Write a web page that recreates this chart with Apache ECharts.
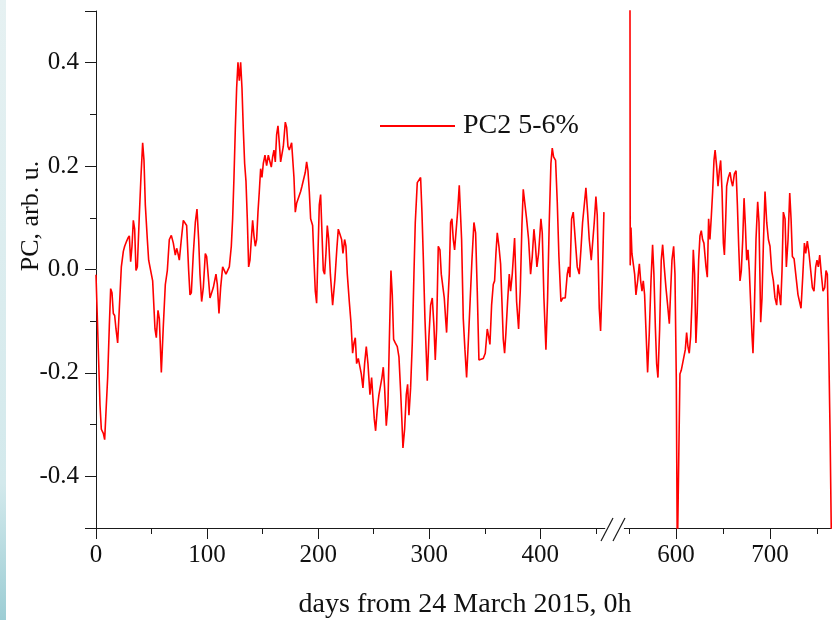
<!DOCTYPE html>
<html><head><meta charset="utf-8">
<script src="https://cdn.jsdelivr.net/npm/echarts@6.0.0/dist/echarts.min.js"></script>
<style>html,body{margin:0;padding:0;background:#fff}#c{width:832px;height:620px}</style>
</head><body><div id="c"></div><script>
// ---- data (days from 24 March 2015, PC2 values) ----
const leftDays = [0,3.6,4.8,6.6,7.8,9,10.5,12,13.2,14.4,15.6,16.8,18,19.5,21,22.8,24.6,25.8,27.6,28.8,30,31.2,32.4,33.6,34.8,36,37.2,39,40.5,42,43.2,44.4,46.2,47.4,49.2,51,53.1,54.3,55.8,57,58.8,60.6,62.4,64.2,66,67.8,69.6,71.4,72.6,73.8,75,76.8,78.6,79.8,81.6,83.4,84.6,85.8,87.6,89.4,90.9,92.4,93.6,95.1,96.6,98.4,99.6,101.4,102.6,105.6,108,109.2,110.7,112.2,114,115.2,117,118.2,120,121.8,123,124.2,125.4,126.6,127.8,129,130.2,131.4,132.6,133.8,135,136.2,137.4,138.6,139.8,141,142.2,143.4,144.6,145.8,147,148.2,149.4,150.6,152.1,153.6,155.1,156.6,157.8,159,160.2,161.4,162.6,163.8,165,166.2,167.4,168.6,170.4,171.6,172.8,174,175.2,176.1,177,178.2,179.4,180.6,182.4,184.2,185.4,186.6,188.4,189.6,190.8,192,193.2,195,196.2,197.4,198.6,199.8,201,202.2,203.4,204.6,205.8,207,208.2,209.4,211,213,215,216.8,218.1,219.6,221.1,222.3,223.8,225,226.2,228,229.5,231,232.2,233.4,234.6,236.1,237.6,238.8,240.3,241.8,243.3,244.8,246.6,248.1,249.3,250.5,251.7,253.2,254.7,256.2,257.4,258.6,259.8,261.3,262.8,264,265.5,266.7,267.9,269.4,271.2,272.7,274.2,275.4,276.3,277.8,279.3,280.5,281.7,283.2,284.7,286.2,287.4,289.2,290.7,292.2,293.4,294.6,296.1,298.2,299.7,301.2,302.7,304.2,305.4,306.6,308.1,309.6,310.8,312,313.5,314.7,315.6,316.8,318,319.2,320.4,321.6,322.8,324,325.5,327,329.1,330.6,332.1,333.6,335.1,336.6,338.4,340.2,341.7,343.2,344.7,346.5,348.6,350.4,352.2,353.4,354.6,356.1,357.6,358.8,360,361.2,362.7,364.2,365.4,366.6,367.8,369,370.5,372,373.2,374.7,376.8,378.6,380.4,381.9,383.4,384.6,387.6,389.4,391.2,392.7,394.2,395.4,396.9,398.4,400.5,401.7,403.2,405,406.5,408,409.5,410.7,411.9,413.7,415.2,416.7,418.5,420.3,422.4,424.2,425.4,426.6,428.1,429.6,431.4,433.2,435,436.5,438,439.8,441,442.5,444,445.8,447,448.5,450,451.2,453,454.2,455.7,457.2];
const leftValues = [-0.01,-0.262,-0.309,-0.317,-0.329,-0.275,-0.209,-0.109,-0.037,-0.045,-0.085,-0.089,-0.115,-0.142,-0.075,0.005,0.035,0.045,0.055,0.061,0.065,0.015,0.045,0.095,0.078,-0.002,0.005,0.105,0.181,0.245,0.211,0.125,0.058,0.018,0.015,-0.022,-0.115,-0.132,-0.079,-0.095,-0.199,-0.109,-0.029,-0.002,0.058,0.066,0.051,0.028,0.041,0.031,0.018,0.058,0.095,0.095,0.085,-0.002,-0.049,-0.045,0.031,0.091,0.117,0.058,-0.009,-0.062,-0.035,0.031,0.025,-0.022,-0.055,-0.035,-0.009,-0.029,-0.085,-0.035,0.005,0.008,-0.009,-0.012,0.005,0.045,0.098,0.178,0.271,0.351,0.401,0.365,0.401,0.351,0.271,0.205,0.171,0.098,0.005,0.018,0.058,0.095,0.065,0.045,0.058,0.111,0.151,0.195,0.178,0.205,0.221,0.201,0.221,0.221,0.198,0.218,0.231,0.208,0.261,0.278,0.245,0.208,0.211,0.238,0.285,0.275,0.238,0.231,0.228,0.245,0.248,0.178,0.111,0.128,0.131,0.151,0.161,0.158,0.188,0.208,0.191,0.151,0.098,0.085,0.018,-0.042,-0.065,0.031,0.125,0.145,0.071,-0.002,-0.009,0.031,0.085,0.06,-0.01,-0.069,-0.02,0.04,0.078,0.068,0.058,0.031,0.058,0.045,-0.009,-0.062,-0.102,-0.162,-0.142,-0.132,-0.182,-0.172,-0.169,-0.202,-0.229,-0.182,-0.149,-0.182,-0.242,-0.209,-0.249,-0.289,-0.312,-0.269,-0.242,-0.241,-0.209,-0.189,-0.229,-0.302,-0.262,-0.142,-0.002,-0.049,-0.135,-0.142,-0.149,-0.169,-0.235,-0.295,-0.345,-0.309,-0.242,-0.222,-0.282,-0.229,-0.142,-0.009,0.091,0.168,0.171,0.178,0.111,0.025,-0.095,-0.215,-0.129,-0.069,-0.055,-0.109,-0.175,-0.115,0.045,0.038,-0.009,-0.009,-0.055,-0.095,-0.122,-0.062,-0.009,0.091,0.098,0.058,0.038,0.071,0.111,0.163,0.058,-0.095,-0.155,-0.209,-0.142,-0.069,0.018,0.091,0.071,-0.042,-0.175,-0.174,-0.172,-0.162,-0.115,-0.129,-0.145,-0.069,-0.029,-0.022,0.031,0.071,0.045,0.011,-0.062,-0.135,-0.162,-0.122,-0.062,-0.009,-0.042,-0.009,0.061,-0.062,-0.115,-0.042,0.085,0.155,0.098,0.058,-0.009,0.025,0.078,0.051,0.005,0.031,0.098,0.071,-0.055,-0.155,-0.055,0.091,0.205,0.235,0.218,0.211,0.131,0.025,-0.062,-0.055,-0.055,-0.009,0.005,-0.015,0.098,0.111,0.108,0.005,-0.009,0.038,0.091,0.131,0.158,0.111,0.058,0.018,0.015,0.091,0.141,0.105,-0.075,-0.119,-0.022,0.111];
const rightDays = [551,551.3,552.1,553.1,554.6,556,557.4,559.2,561,562.4,563.8,565.2,566.6,568,569.8,571.6,573.4,575.1,576.5,578,579.4,580.8,582.6,584.3,585.8,587.5,589.3,591.1,592.9,594.3,595.7,597.5,598.9,600.3,601.4,602.8,604.2,605.6,607,608.5,609.9,611.3,612.7,614.1,615.6,617,618.4,619.8,621.2,622.6,624.1,625.5,626.9,628.3,629.7,631.9,633.3,634.7,636.1,637.5,639,640.4,641.6,643.2,644.7,646.1,647.5,649,650.4,651.5,652.9,653.9,655.7,657.5,658.9,660.3,662.1,663.9,665.3,666.7,668.1,669.5,671,672.4,673.8,675.2,676.6,678,679.5,680.9,681.9,683.4,685.1,686.9,688.3,690.1,691.5,692.9,694.7,696.5,698.3,700,701.8,703.6,705.3,707.1,708.5,710,711.4,712.8,714.2,716,717.4,719.2,721,722.4,723.8,725.6,727.7,729.8,731.2,733,734.8,736.6,738,739.7,741.5,743.3,745.1,746.8,748.6,750,751.4,752.9,754.6,756.4,758.2,759.6,761,762.4,763.9,765.3];
const rightValues = [0.62,0.008,0.081,0.031,0.028,-0.009,-0.049,-0.022,0.011,-0.022,-0.042,-0.022,-0.049,-0.115,-0.199,-0.122,-0.022,0.048,-0.009,-0.109,-0.182,-0.209,-0.115,0.018,0.048,0.005,-0.035,-0.069,-0.105,-0.042,0.018,0.045,-0.009,-0.209,-0.56,-0.56,-0.202,-0.195,-0.182,-0.179,-0.155,-0.122,-0.149,-0.162,-0.129,-0.062,0.038,-0.009,-0.142,-0.082,0.018,0.065,0.075,0.058,0.051,0.005,-0.015,0.098,0.058,0.1,0.151,0.211,0.231,0.2,0.161,0.191,0.211,0.151,0.051,0.028,0.098,0.161,0.178,0.188,0.171,0.161,0.185,0.191,0.125,0.045,-0.022,-0.002,0.058,0.138,0.085,0.018,0.038,-0.002,-0.069,-0.129,-0.162,-0.075,0.058,0.131,0.091,-0.102,-0.055,0.045,0.151,0.091,0.058,0.045,-0.002,-0.022,-0.055,-0.069,-0.029,-0.029,-0.069,-0.002,0.111,0.098,0.005,0.058,0.148,0.098,0.025,0.021,0.018,-0.049,-0.049,-0.075,-0.015,0.051,0.031,0.055,0.031,-0.002,-0.035,-0.042,0.005,0.018,0.005,0.028,-0.009,-0.042,-0.035,-0.002,-0.009,-0.142,-0.315,-0.52];
const yTickLabels = [-0.4, -0.2, 0, 0.2, 0.4];
const yMajorTicks = [-0.5, -0.4, -0.2, 0, 0.2, 0.4, 0.5];
const yMinorTicks = [-0.3, -0.1, 0.1, 0.3];
const xMajorLeft = [0, 100, 200, 300, 400];
const xMinorLeft = [50, 150, 250, 350, 450];
const xMajorRight = [600, 700];
const xMinorRight = [550, 650, 750];
const seriesName = 'PC2 5-6%';
const yTitle = 'PC, arb. u.';
const xTitle = 'days from 24 March 2015, 0h';

// ---- styling ----
const FONT = '"Liberation Serif", "Times New Roman", serif';
const AX = '#1a1a1a';
const RED = '#ff0000';

const chart = echarts.init(document.getElementById('c'), null, {renderer: 'canvas'});

function xAxisDef(grid, min, max, ticks, labels, len, withLine) {
  return {
    type: 'value', gridIndex: grid, min: min, max: max, position: 'bottom',
    axisLine: {show: withLine, onZero: false, lineStyle: {color: AX, width: 1}},
    axisTick: {show: true, inside: false, length: len, customValues: ticks, lineStyle: {color: AX, width: 1}},
    axisLabel: labels ? {show: true, customValues: labels, margin: 15, color: '#111', fontSize: 25, fontFamily: FONT} : {show: false},
    splitLine: {show: false}
  };
}

const option = {
  animation: false,
  backgroundColor: '#ffffff',
  grid: [
    {left: 96, top: 11, width: 508.8, height: 517, outerBoundsMode: 'none'},
    {left: 624.3, top: 11, width: 206.8, height: 517, outerBoundsMode: 'none'}
  ],
  legend: {
    show: true, left: 375, top: 107, itemWidth: 75, itemHeight: 2, icon: 'rect',
    data: [seriesName],
    itemStyle: {color: RED, borderWidth: 0},
    textStyle: {fontSize: 28, fontFamily: FONT, color: '#111', padding: [0, 0, 0, 3]}
  },
  xAxis: [
    xAxisDef(0, 0, 458, xMajorLeft, xMajorLeft, 11, true),
    xAxisDef(0, 0, 458, xMinorLeft, null, 6, false),
    xAxisDef(1, 545, 765, xMajorRight, xMajorRight, 11, true),
    xAxisDef(1, 545, 765, xMinorRight, null, 6, false)
  ],
  yAxis: [
    {type: 'value', gridIndex: 0, min: -0.5, max: 0.5, position: 'left',
     axisLine: {show: true, onZero: false, lineStyle: {color: AX, width: 1}},
     axisTick: {show: true, length: 11, customValues: yMajorTicks, lineStyle: {color: AX, width: 1}},
     axisLabel: {show: true, customValues: yTickLabels, margin: 17, color: '#111', fontSize: 25, fontFamily: FONT,
                 formatter: v => Number(v).toFixed(1)},
     splitLine: {show: false}},
    {type: 'value', gridIndex: 0, min: -0.5, max: 0.5, position: 'left',
     axisLine: {show: false},
     axisTick: {show: true, length: 6, customValues: yMinorTicks, lineStyle: {color: AX, width: 1}},
     axisLabel: {show: false}, splitLine: {show: false}},
    {type: 'value', gridIndex: 1, min: -0.5, max: 0.5, show: false}
  ],
  series: [
    {name: seriesName, type: 'line', xAxisIndex: 0, yAxisIndex: 0, symbol: 'none', clip: true,
     lineStyle: {color: RED, width: 1.6}, itemStyle: {color: RED},
     data: leftDays.map((d, i) => [d, leftValues[i]])},
    {name: seriesName, type: 'line', xAxisIndex: 2, yAxisIndex: 2, symbol: 'none', clip: true,
     lineStyle: {color: RED, width: 1.6}, itemStyle: {color: RED},
     data: rightDays.map((d, i) => [d, rightValues[i]])}
  ],
  graphic: [
    {type: 'rect', left: 0, top: 0, z: -1, shape: {x: 0, y: 0, width: 6, height: 620},
     style: {fill: new echarts.graphic.LinearGradient(0, 0, 0, 1, [
       {offset: 0, color: '#e6f1f2'}, {offset: 0.78, color: '#d3e9ec'}, {offset: 1, color: '#9ccdd4'}])}},
    {type: 'line', shape: {x1: 601, y1: 541, x2: 613, y2: 518}, style: {stroke: AX, lineWidth: 1.2}},
    {type: 'line', shape: {x1: 613, y1: 541, x2: 625, y2: 518}, style: {stroke: AX, lineWidth: 1.2}},
    {type: 'text', x: 31, y: 216, rotation: Math.PI / 2,
     style: {text: yTitle, fontSize: 26, fontFamily: FONT, fill: '#111', align: 'center', verticalAlign: 'middle'}},
    {type: 'text', x: 465, y: 605,
     style: {text: xTitle, fontSize: 28, fontFamily: FONT, fill: '#111', align: 'center', verticalAlign: 'middle'}}
  ]
};
chart.setOption(option);
</script></body></html>
